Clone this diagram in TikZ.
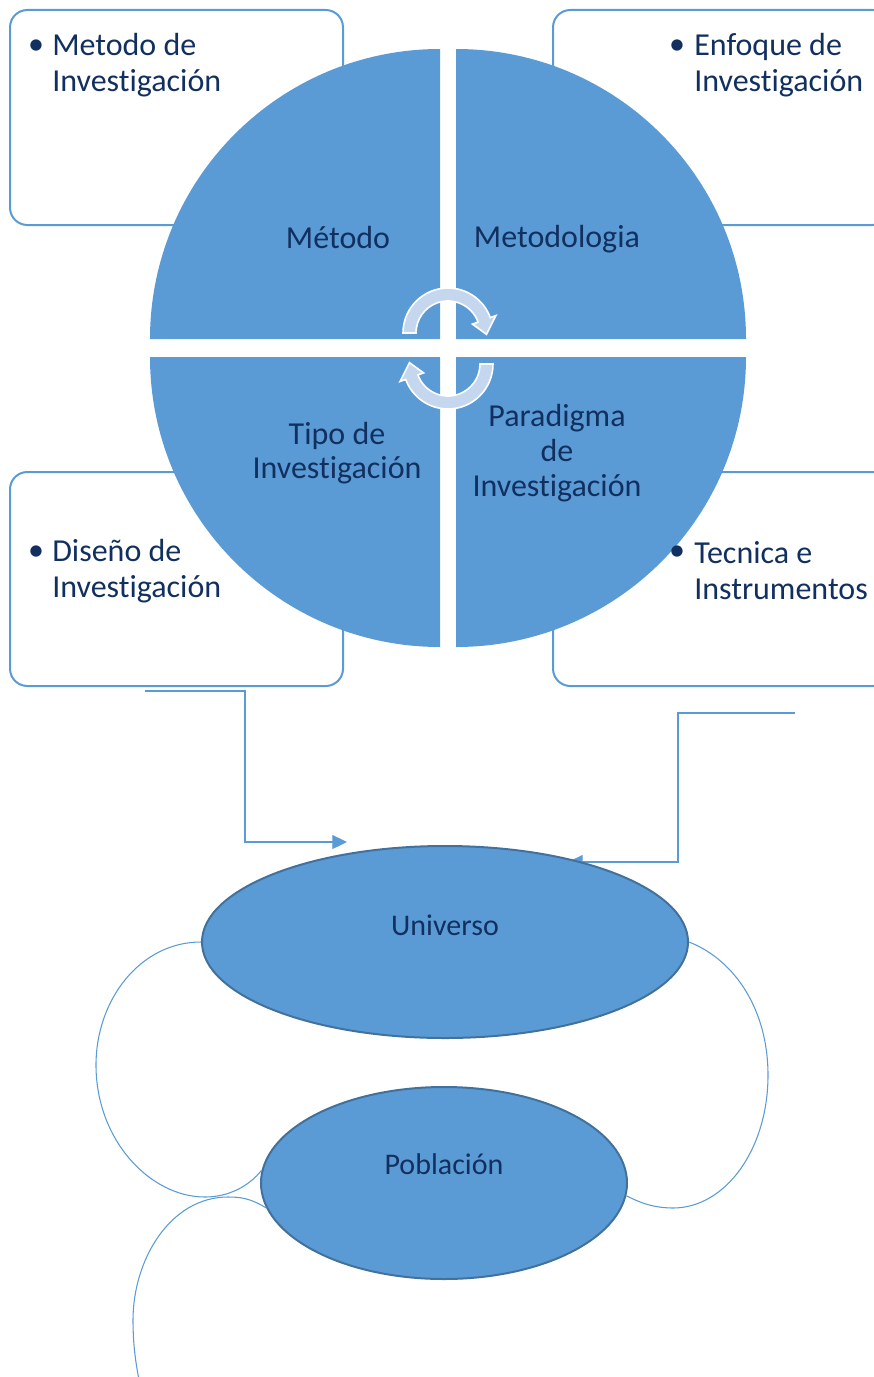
\documentclass[tikz,border=0pt]{standalone}
\usepackage{fontspec}
\setmainfont{Carlito}[Ligatures=NoCommon]
\usetikzlibrary{shapes.geometric,arrows.meta}
\definecolor{azul}{HTML}{5B9BD5}
\definecolor{azulosc}{HTML}{41719C}
\definecolor{marino}{HTML}{12305F}
\definecolor{claro}{HTML}{C5D7EF}
\begin{document}
\begin{tikzpicture}[x=0.75pt,y=-0.75pt,
  caja/.style={draw=azul, line width=1.5pt, rounded corners=13pt},
  cuarto/.style={fill=azul},
  etiq/.style={text=marino, font=\fontsize{24}{26}\selectfont, align=center, inner sep=0pt},
  vineta/.style={text=marino, font=\fontsize{24}{27}\selectfont, align=left, inner sep=0pt, anchor=west},
  punto/.style={text=marino, font=\fontsize{24}{27}\selectfont, inner sep=0pt},
  ciclo/.style={fill=claro, draw=white, line width=1.2pt},
  elipse/.style={ellipse, fill=azul, draw=azulosc, line width=1.5pt,
    minimum width=364.5pt, minimum height=144pt},
  etiqel/.style={text=marino, font=\fontsize{22.5}{26}\selectfont, inner sep=0pt},
  enlace/.style={draw=azul, line width=0.8pt}]
\clip (0,0) rectangle (874,1377);

% cajas con vinetas
\draw[caja] (10,10) rectangle (343,225);
\draw[caja] (553,10) rectangle (890,225);
\draw[caja] (10,472) rectangle (343,686);
\draw[caja] (553,472) rectangle (890,686);

% circulo en cuatro partes
\fill[cuarto] (440,339) -- ++(180:290) arc[start angle=180, end angle=270, radius=290] -- cycle;
\fill[cuarto] (456,339) -- ++(270:290) arc[start angle=270, end angle=360, radius=290] -- cycle;
\fill[cuarto] (440,357) -- ++(90:290) arc[start angle=90, end angle=180, radius=290] -- cycle;
\fill[cuarto] (456,357) -- ++(0:290) arc[start angle=0, end angle=90, radius=290] -- cycle;

\node[etiq] (metodo) at (338,238) {Método};
\node[etiq] (metodologia) at (557,239) {Metodologia};
\node[etiq] (tipo) at (337,453) {Tipo de\\Investigación};
\node[etiq] (paradigma) at (557,453) {Paradigma\\de\\Investigación};

% flechas del ciclo
\foreach \cy/\rot in {333/0, 364/180}
  \filldraw[ciclo, shift={(448,\cy)}, rotate=\rot] (180:45) arc[start angle=180, end angle=340, radius=45]
    -- (340:51) -- (2:38.5) -- (340:26) -- (340:32) arc[start angle=340, end angle=180, radius=32] -- cycle;

% textos de las cajas
\node[punto] (p1) at (36,47) {•};
\node[vineta] (t1) at (52,65) {Metodo de\\Investigación};
\node[punto] (p2) at (677,47) {•};
\node[vineta] (t2) at (694,65) {Enfoque de\\Investigación};
\node[punto] (p3) at (36,553) {•};
\node[vineta] (t3) at (52,571) {Diseño de\\Investigación};
\node[punto] (p4) at (677,553) {•};
\node[vineta] (t4) at (694,571) {Tecnica e\\Instrumentos};

% conectores hacia el universo
\coordinate (izq) at (145,691);
\coordinate (izqfin) at (347,842);
\coordinate (der) at (795,713);
\coordinate (derfin) at (568,862);
\draw[enlace, -{Triangle[length=11pt, width=10.5pt]}] (izq) -- ++(100,0) |- (izqfin);
\draw[enlace, -{Triangle[length=11pt, width=10.5pt]}] (der) -- ++(-117,0) |- (derfin);

\node[elipse] (universo) at (445,942) {};
\node[elipse, minimum width=274.5pt] (poblacion) at (444,1183) {};
\node[etiqel] (tuniverso) at (445,925) {Universo};
\node[etiqel] (tpoblacion) at (444,1164) {Población};

% lazos
\coordinate (cola) at (141,1390);
\draw[enlace] (universo.west) .. controls (140,942) and (96,1000) .. (96,1065)
  .. controls (96,1140) and (150,1197) .. (205,1197) .. controls (230,1197) and (250,1185) .. (poblacion.176);
\draw[enlace] (universo.east) .. controls (735,960) and (768,1010) .. (768,1075)
  .. controls (768,1150) and (725,1208) .. (673,1208) .. controls (650,1208) and (635,1200) .. (poblacion.-4);
\draw[enlace] (poblacion.188) .. controls (250,1198) and (240,1197) .. (228,1197)
  .. controls (170,1197) and (133,1260) .. (133,1320) .. controls (133,1350) and (137,1370) .. (cola);
\end{tikzpicture}
\end{document}
